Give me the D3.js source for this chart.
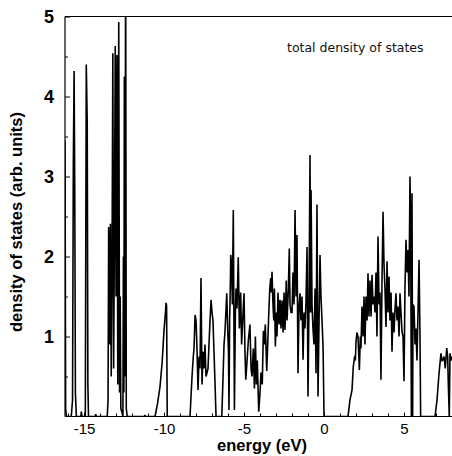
<!DOCTYPE html>
<html>
<head>
<meta charset="utf-8">
<script src="https://cdn.jsdelivr.net/npm/d3@7"></script>
<style>
  html, body { margin: 0; padding: 0; background: #fff; }
  svg { display: block; }
</style>
</head>
<body>
<svg id="chart" width="452" height="456"></svg>
<script>
// ---- data ----
const energy = [
  -16.19,-16.15,-16.10,
  -15.80,-15.72,-15.67,-15.62,-15.58,-15.54,-15.48,
  -15.20,-15.17,-15.13,
  -14.92,-14.86,-14.80,-14.76,-14.72,
  -14.30,-14.27,-14.24,
  -13.55,-13.50,-13.46,-13.41,-13.35,-13.30,-13.25,-13.20,-13.15,-13.10,-13.05,-13.00,-12.94,-12.89,-12.83,-12.78,-12.74,-12.70,-12.62,
  -12.57,-12.54,-12.51,-12.48,-12.44,-12.40,-12.36,-12.30,
  -11.22,-11.20,-11.18,
  -10.56,-10.40,-10.25,-10.12,-10.00,-9.91,-9.875,-9.84,-9.80,
  -8.375,-8.25,-8.17,-8.125,-8.06,-8.00,-7.94,-7.875,-7.81,-7.75,-7.69,-7.625,-7.56,-7.50,-7.44,-7.375,-7.31,-7.25,-7.19,-7.125,-7.06,-7.00,-6.94,-6.875,-6.81,-6.75,
  -6.39,-6.31,-6.25,-6.19,-6.08,-6.02,-5.97,-5.94,-5.90,-5.85,-5.83,-5.77,-5.73,-5.67,-5.60,-5.54,-5.50,-5.44,-5.36,-5.29,-5.21,-5.15,-5.06,-5.00,
  -4.94,-4.89,-4.81,-4.73,-4.63,-4.56,-4.50,-4.42,-4.35,-4.29,-4.23,-4.17,-4.08,-4.00,-3.94,-3.86,-3.79,-3.73,-3.67,-3.58,-3.52,-3.46,-3.39,-3.33,-3.29,-3.25,-3.19,-3.14,-3.10,-3.04,
  -2.98,-2.94,-2.875,-2.81,-2.75,-2.69,-2.625,-2.56,-2.50,-2.44,-2.36,-2.31,-2.23,-2.17,-2.125,-2.06,-2.00,-1.94,-1.875,-1.81,-1.75,-1.69,-1.625,-1.56,-1.50,-1.44,-1.375,-1.31,-1.25,-1.19,-1.125,-1.06,
  -1.00,-0.94,-0.875,-0.84,-0.81,-0.75,-0.69,-0.625,-0.56,-0.50,-0.44,-0.375,-0.31,-0.25,-0.19,-0.125,-0.06,-0.02,0.00,
  1.50,1.625,1.75,1.83,1.90,1.96,2.00,2.06,2.125,2.21,2.27,2.31,2.375,2.44,2.50,2.56,2.625,2.69,2.75,2.81,2.875,2.94,
  3.00,3.06,3.125,3.19,3.25,3.31,3.375,3.44,3.50,3.56,3.625,3.69,3.75,3.81,3.875,3.94,
  4.00,4.06,4.125,4.19,4.25,4.31,4.375,4.44,4.50,4.56,4.625,4.69,4.75,4.81,4.875,4.94,
  5.00,5.06,5.125,5.19,5.25,5.31,5.375,5.42,5.46,5.50,5.54,5.56,5.625,5.69,5.75,5.81,5.875,5.94,6.00,6.04,
  6.94,7.06,7.19,7.31,7.375,7.44,7.50,7.58,7.67,7.73,7.77,7.83,7.875,7.94,8.00
];
const dos = [
  3.45,0.10,0.00,
  0.00,0.20,3.15,4.32,2.80,0.30,0.00,
  0.00,0.06,0.00,
  0.00,4.40,3.67,0.40,0.00,
  0.00,0.03,0.00,
  0.00,0.20,2.37,0.90,2.41,0.50,1.90,4.54,0.60,2.30,4.63,1.50,4.52,0.40,4.93,0.30,1.50,0.10,0.05,
  0.00,2.00,0.30,4.25,0.50,6.00,0.10,0.00,
  0.00,0.02,0.00,
  0.00,0.17,0.375,0.67,1.08,1.30,1.42,1.38,0.00,
  0.00,0.50,0.75,0.85,1.27,1.20,0.85,0.33,0.75,0.60,1.73,0.40,0.81,0.60,0.90,0.50,0.55,0.60,0.90,1.20,1.46,1.30,1.20,0.80,0.40,0.00,
  0.00,0.50,0.90,1.06,1.54,1.10,0.80,0.08,1.20,1.70,2.02,1.87,1.40,2.58,0.08,1.30,1.60,1.35,1.99,1.10,1.55,0.90,1.30,1.54,
  0.80,0.46,0.70,0.95,1.15,0.60,0.50,0.85,0.35,1.00,0.40,0.70,0.06,0.30,0.55,0.40,1.07,0.90,1.15,0.57,0.90,1.25,1.60,1.73,1.55,1.81,1.40,1.20,1.60,0.875,
  1.30,1.00,1.55,1.15,1.46,1.10,1.45,1.05,1.55,1.08,1.70,1.20,1.58,2.10,1.40,1.30,1.30,1.80,1.40,2.58,1.50,2.27,0.54,1.40,1.54,1.20,1.50,0.71,1.30,1.10,1.45,2.12,
  0.25,1.40,3.27,1.30,2.83,1.40,1.10,0.90,1.60,0.54,2.65,0.25,1.20,2.02,1.50,1.20,0.875,0.30,0.00,
  0.00,0.21,0.33,0.625,0.73,0.70,0.94,1.05,1.00,0.58,1.00,0.85,1.375,1.00,1.50,0.90,1.50,1.20,1.79,1.25,1.70,1.25,
  1.77,1.40,1.50,1.30,1.80,1.00,2.25,1.40,1.55,0.46,1.70,2.56,1.90,1.60,1.12,1.94,
  1.30,1.75,1.20,1.55,0.81,1.30,1.05,1.35,1.54,1.20,1.375,1.00,1.54,1.30,1.06,1.00,
  0.44,1.60,2.21,1.80,2.08,1.50,3.00,2.30,0.00,2.79,0.00,1.40,1.375,0.90,1.10,0.70,1.30,1.96,1.00,0.00,
  0.00,0.20,0.54,0.79,0.70,0.71,0.75,0.60,0.855,0.75,0.40,0.00,0.79,0.70,0.75
];
const xTickValues = [-15, -10, -5, 0, 5];
const xTickLabels = ["-15", "-10", "-5", "0", "5"];
const yTickValues = [1, 2, 3, 4, 5];
const yTickLabels = ["1", "2", "3", "4", "5"];
const xDomain = [-16.19, 8.0];
const yDomain = [0, 5];
const legendText = "total density of states";
const xTitle = "energy (eV)";
const yTitle = "density of states (arb. units)";

// ---- layout ----
const svg = d3.select("#chart");
const pLeft = 65, pRight = 452, pTop = 16.5, pBottom = 416.5;

const x = d3.scaleLinear().domain(xDomain).range([pLeft, pRight]);
const y = d3.scaleLinear().domain(yDomain).range([pBottom, pTop]);

svg.append("defs").append("clipPath").attr("id", "plotclip")
  .append("rect").attr("x", pLeft).attr("y", pTop).attr("width", pRight - pLeft).attr("height", pBottom - pTop);

const nPts = Math.min(energy.length, dos.length);
const pts = d3.range(nPts).map(i => [energy[i], dos[i]]);
const line = d3.line().x(d => x(d[0])).y(d => y(d[1]));

svg.append("path")
  .datum(pts)
  .attr("clip-path", "url(#plotclip)")
  .attr("fill", "none")
  .attr("stroke", "#000")
  .attr("stroke-width", 1.6)
  .attr("stroke-linejoin", "miter")
  .attr("d", line);

// frame: left, top
svg.append("line").attr("x1", pLeft).attr("x2", pLeft).attr("y1", pTop).attr("y2", pBottom)
  .attr("stroke", "#000").attr("stroke-width", 1.2);
svg.append("line").attr("x1", pLeft).attr("x2", pRight).attr("y1", pTop).attr("y2", pTop)
  .attr("stroke", "#000").attr("stroke-width", 1.2);

// bottom axis with inward ticks
const xMinor = d3.range(-16, 9, 1);
const xAxisMinor = d3.axisBottom(x).tickValues(xMinor).tickSize(-3).tickFormat("");
const gxm = svg.append("g").attr("transform", `translate(0,${pBottom})`).call(xAxisMinor);
gxm.select(".domain").attr("d", `M${pLeft},0H${pRight}`).attr("stroke-width", 1.2);

const xAxis = d3.axisBottom(x).tickValues(xTickValues).tickSize(-4).tickPadding(8)
  .tickFormat((d, i) => xTickLabels[i]);
const gx = svg.append("g").attr("transform", `translate(0,${pBottom})`).call(xAxis);
gx.select(".domain").remove();
gx.selectAll("text").attr("font-family", "Liberation Sans, Arial, sans-serif")
  .attr("font-size", 15).attr("fill", "#000").attr("dy", "0.71em").attr("y", 7);

// left axis with inward ticks
const yMinor = d3.range(0.5, 5, 1);
const yAxisMinor = d3.axisLeft(y).tickValues(yMinor).tickSize(-3).tickFormat("");
const gym = svg.append("g").attr("transform", `translate(${pLeft},0)`).call(yAxisMinor);
gym.select(".domain").remove();

const yAxis = d3.axisLeft(y).tickValues(yTickValues).tickSize(-5).tickPadding(12)
  .tickFormat((d, i) => yTickLabels[i]);
const gy = svg.append("g").attr("transform", `translate(${pLeft},0)`).call(yAxis);
gy.select(".domain").remove();
gy.selectAll("text").attr("font-family", "Liberation Sans, Arial, sans-serif")
  .attr("font-size", 18).attr("font-weight", "bold").attr("fill", "#000").attr("x", -11);

// titles
svg.append("text").attr("x", 262).attr("y", 451).attr("text-anchor", "middle")
  .attr("font-family", "Liberation Sans, Arial, sans-serif").attr("font-size", 16.5)
  .attr("font-weight", "bold").text(xTitle);

svg.append("text").attr("transform", "translate(22,222) rotate(-90)").attr("text-anchor", "middle")
  .attr("font-family", "Liberation Sans, Arial, sans-serif").attr("font-size", 16.5)
  .attr("font-weight", "bold").text(yTitle);

svg.append("text").attr("x", 287).attr("y", 52)
  .attr("font-family", "DejaVu Sans, sans-serif").attr("font-size", 12.5)
  .attr("fill", "#111").text(legendText);
</script>
</body>
</html>
